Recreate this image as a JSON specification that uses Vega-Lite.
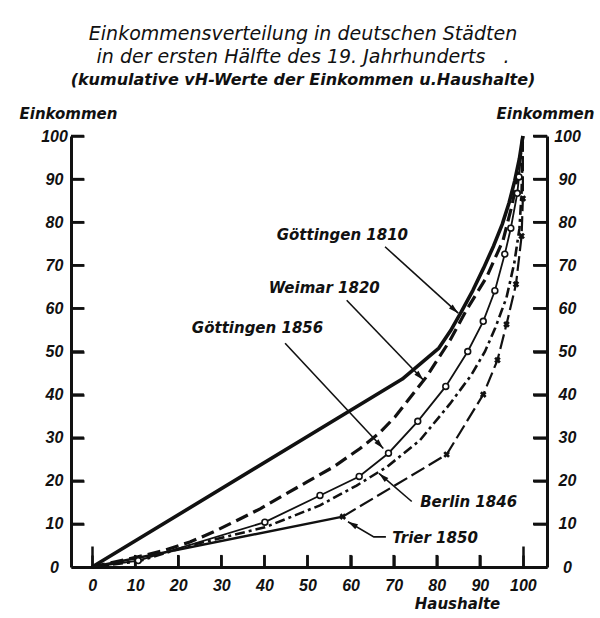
{
  "$schema": "https://vega.github.io/schema/vega-lite/v6.json",
  "autosize": {"type": "none"},
  "padding": {"left": 71, "top": 136, "right": 53, "bottom": 51},
  "width": 476,
  "height": 431,
  "background": "white",
  "title": {
    "text": ["Einkommensverteilung in deutschen Städten", "in der ersten Hälfte des 19. Jahrhunderts\u00a0\u00a0\u00a0."],
    "subtitle": "(kumulative vH-Werte der Einkommen u.Haushalte)",
    "anchor": "middle",
    "frame": "group",
    "dx": -6,
    "offset": 18,
    "font": "DejaVu Sans",
    "fontStyle": "italic",
    "fontWeight": "normal",
    "fontSize": 19,
    "lineHeight": 23,
    "color": "#111",
    "subtitleFont": "DejaVu Sans",
    "subtitleFontStyle": "italic",
    "subtitleFontWeight": "bold",
    "subtitleFontSize": 16,
    "subtitleColor": "#111",
    "subtitlePadding": 5
  },
  "config": {"view": {"stroke": null}},
  "datasets": {
    "striche": [
      {"wert": 10}, {"wert": 20}, {"wert": 30}, {"wert": 40}, {"wert": 50},
      {"wert": 60}, {"wert": 70}, {"wert": 80}, {"wert": 90}, {"wert": 100}
    ],
    "kurven": [
      {"stadt": "Göttingen 1810", "haushalte": 0, "einkommen": 0},
      {"stadt": "Göttingen 1810", "haushalte": 72, "einkommen": 43.6},
      {"stadt": "Göttingen 1810", "haushalte": 80.5, "einkommen": 50.8},
      {"stadt": "Göttingen 1810", "haushalte": 83.2, "einkommen": 54.8},
      {"stadt": "Göttingen 1810", "haushalte": 85.6, "einkommen": 59},
      {"stadt": "Göttingen 1810", "haushalte": 88.4, "einkommen": 64.2},
      {"stadt": "Göttingen 1810", "haushalte": 90.9, "einkommen": 69.4},
      {"stadt": "Göttingen 1810", "haushalte": 93.2, "einkommen": 74.5},
      {"stadt": "Göttingen 1810", "haushalte": 95.2, "einkommen": 79.5},
      {"stadt": "Göttingen 1810", "haushalte": 96.8, "einkommen": 84.5},
      {"stadt": "Göttingen 1810", "haushalte": 98.1, "einkommen": 89.6},
      {"stadt": "Göttingen 1810", "haushalte": 99.2, "einkommen": 94.8},
      {"stadt": "Göttingen 1810", "haushalte": 100, "einkommen": 100},
      {"stadt": "Weimar 1820", "haushalte": 0, "einkommen": 0},
      {"stadt": "Weimar 1820", "haushalte": 4.9, "einkommen": 1.1},
      {"stadt": "Weimar 1820", "haushalte": 10.4, "einkommen": 2.3},
      {"stadt": "Weimar 1820", "haushalte": 16.6, "einkommen": 3.8},
      {"stadt": "Weimar 1820", "haushalte": 22.7, "einkommen": 5.8},
      {"stadt": "Weimar 1820", "haushalte": 28.1, "einkommen": 8.1},
      {"stadt": "Weimar 1820", "haushalte": 33.6, "einkommen": 10.8},
      {"stadt": "Weimar 1820", "haushalte": 39, "einkommen": 13.5},
      {"stadt": "Weimar 1820", "haushalte": 44.4, "einkommen": 16.6},
      {"stadt": "Weimar 1820", "haushalte": 49.8, "einkommen": 19.7},
      {"stadt": "Weimar 1820", "haushalte": 56, "einkommen": 23.2},
      {"stadt": "Weimar 1820", "haushalte": 62.2, "einkommen": 27.5},
      {"stadt": "Weimar 1820", "haushalte": 66.6, "einkommen": 31},
      {"stadt": "Weimar 1820", "haushalte": 70.3, "einkommen": 34.8},
      {"stadt": "Weimar 1820", "haushalte": 77.6, "einkommen": 44.1},
      {"stadt": "Weimar 1820", "haushalte": 83.1, "einkommen": 52.6},
      {"stadt": "Weimar 1820", "haushalte": 86.9, "einkommen": 59.6},
      {"stadt": "Weimar 1820", "haushalte": 91.6, "einkommen": 67.3},
      {"stadt": "Weimar 1820", "haushalte": 95.4, "einkommen": 75.8},
      {"stadt": "Weimar 1820", "haushalte": 97.5, "einkommen": 84},
      {"stadt": "Weimar 1820", "haushalte": 99, "einkommen": 92},
      {"stadt": "Weimar 1820", "haushalte": 100, "einkommen": 100},
      {"stadt": "Göttingen 1856", "haushalte": 0, "einkommen": 0},
      {"stadt": "Göttingen 1856", "haushalte": 10.7, "einkommen": 1.5},
      {"stadt": "Göttingen 1856", "haushalte": 40.1, "einkommen": 10.4},
      {"stadt": "Göttingen 1856", "haushalte": 52.9, "einkommen": 16.6},
      {"stadt": "Göttingen 1856", "haushalte": 62, "einkommen": 21},
      {"stadt": "Göttingen 1856", "haushalte": 68.8, "einkommen": 26.4},
      {"stadt": "Göttingen 1856", "haushalte": 75.6, "einkommen": 33.8},
      {"stadt": "Göttingen 1856", "haushalte": 82.1, "einkommen": 41.9},
      {"stadt": "Göttingen 1856", "haushalte": 87.2, "einkommen": 50},
      {"stadt": "Göttingen 1856", "haushalte": 90.8, "einkommen": 57},
      {"stadt": "Göttingen 1856", "haushalte": 93.5, "einkommen": 64.1},
      {"stadt": "Göttingen 1856", "haushalte": 95.8, "einkommen": 72.6},
      {"stadt": "Göttingen 1856", "haushalte": 97.2, "einkommen": 78.6},
      {"stadt": "Göttingen 1856", "haushalte": 98.7, "einkommen": 86.7},
      {"stadt": "Göttingen 1856", "haushalte": 99.1, "einkommen": 90.5},
      {"stadt": "Göttingen 1856", "haushalte": 100, "einkommen": 100},
      {"stadt": "Berlin 1846", "haushalte": 0, "einkommen": 0},
      {"stadt": "Berlin 1846", "haushalte": 10.7, "einkommen": 1.3},
      {"stadt": "Berlin 1846", "haushalte": 22.7, "einkommen": 5},
      {"stadt": "Berlin 1846", "haushalte": 40.1, "einkommen": 9.2},
      {"stadt": "Berlin 1846", "haushalte": 52.9, "einkommen": 14.3},
      {"stadt": "Berlin 1846", "haushalte": 61.4, "einkommen": 18.9},
      {"stadt": "Berlin 1846", "haushalte": 68.4, "einkommen": 23.2},
      {"stadt": "Berlin 1846", "haushalte": 76.1, "einkommen": 29.4},
      {"stadt": "Berlin 1846", "haushalte": 83.1, "einkommen": 37.9},
      {"stadt": "Berlin 1846", "haushalte": 88, "einkommen": 44.5},
      {"stadt": "Berlin 1846", "haushalte": 91.2, "einkommen": 50},
      {"stadt": "Berlin 1846", "haushalte": 93.6, "einkommen": 55.5},
      {"stadt": "Berlin 1846", "haushalte": 96.2, "einkommen": 62.5},
      {"stadt": "Berlin 1846", "haushalte": 98, "einkommen": 70.5},
      {"stadt": "Berlin 1846", "haushalte": 99.2, "einkommen": 78.5},
      {"stadt": "Berlin 1846", "haushalte": 99.7, "einkommen": 87},
      {"stadt": "Berlin 1846", "haushalte": 100, "einkommen": 100},
      {"stadt": "Trier 1850", "haushalte": 0, "einkommen": 0},
      {"stadt": "Trier 1850", "haushalte": 58.2, "einkommen": 11.7},
      {"stadt": "Trier 1850", "haushalte": 82.3, "einkommen": 26.1},
      {"stadt": "Trier 1850", "haushalte": 90.8, "einkommen": 40},
      {"stadt": "Trier 1850", "haushalte": 94.1, "einkommen": 48},
      {"stadt": "Trier 1850", "haushalte": 96.2, "einkommen": 56.3},
      {"stadt": "Trier 1850", "haushalte": 98.4, "einkommen": 65.6},
      {"stadt": "Trier 1850", "haushalte": 99.7, "einkommen": 76.8},
      {"stadt": "Trier 1850", "haushalte": 100, "einkommen": 85.5},
      {"stadt": "Trier 1850", "haushalte": 100, "einkommen": 100}
    ],
    "pfeile": [
      {"pfeil": "Göttingen 1810", "n": 1, "haushalte": 68.0, "einkommen": 74.3},
      {"pfeil": "Göttingen 1810", "n": 2, "haushalte": 85.0, "einkommen": 58.9},
      {"pfeil": "Weimar 1820", "n": 1, "haushalte": 59.1, "einkommen": 61.9},
      {"pfeil": "Weimar 1820", "n": 2, "haushalte": 76.9, "einkommen": 43.4},
      {"pfeil": "Göttingen 1856", "n": 1, "haushalte": 44.8, "einkommen": 51.9},
      {"pfeil": "Göttingen 1856", "n": 2, "haushalte": 67.6, "einkommen": 27.5},
      {"pfeil": "Berlin 1846", "n": 1, "haushalte": 74.2, "einkommen": 15.2},
      {"pfeil": "Berlin 1846", "n": 2, "haushalte": 66.6, "einkommen": 21.7},
      {"pfeil": "Trier 1850", "n": 1, "haushalte": 68.2, "einkommen": 7.0},
      {"pfeil": "Trier 1850", "n": 2, "haushalte": 65.4, "einkommen": 7.0},
      {"pfeil": "Trier 1850", "n": 3, "haushalte": 59.4, "einkommen": 10.5}
    ],
    "beschriftungen": [
      {"text": "Göttingen 1810", "haushalte": 58.1, "einkommen": 77.1},
      {"text": "Weimar 1820", "haushalte": 53.9, "einkommen": 64.8},
      {"text": "Göttingen 1856", "haushalte": 38.4, "einkommen": 55.5},
      {"text": "Berlin 1846", "haushalte": 87.4, "einkommen": 15.0},
      {"text": "Trier 1850", "haushalte": 79.6, "einkommen": 6.8}
    ]
  },
  "layer": [
    {
      "data": {"name": "kurven"},
      "transform": [{"filter": "datum.stadt === 'Göttingen 1810'"}],
      "mark": {"type": "line", "color": "#111", "strokeWidth": 3.6, "strokeJoin": "round"},
      "encoding": {
        "x": {"field": "haushalte", "type": "quantitative", "scale": {"domain": [-4.9, 105.6], "nice": false, "zero": false},
          "axis": {"orient": "bottom", "values": [0, 10, 20, 30, 40, 50, 60, 70, 80, 90, 100], "grid": false,
            "ticks": true, "tickSize": -12, "tickWidth": 2.5, "tickColor": "#111", "domainColor": "#111", "domainWidth": 3,
            "labelFont": "Liberation Sans", "labelFontStyle": "italic", "labelFontWeight": "bold", "labelFontSize": 16, "labelColor": "#111",
            "labelPadding": 22, "labelFlush": false, "labelOverlap": false,
            "title": "Haushalte", "titleX": 386, "titleY": 36, "titleAngle": 0, "titleAlign": "center", "titleBaseline": "middle",
            "titleFont": "DejaVu Sans", "titleFontStyle": "italic", "titleFontWeight": "bold", "titleFontSize": 15, "titleColor": "#111"}},
        "y": {"field": "einkommen", "type": "quantitative", "scale": {"domain": [0, 100], "nice": false},
          "axis": {"orient": "left", "values": [0, 10, 20, 30, 40, 50, 60, 70, 80, 90, 100], "grid": false,
            "ticks": true, "tickSize": -13, "tickWidth": 2.5, "tickColor": "#111", "domainColor": "#111", "domainWidth": 3,
            "labelFont": "Liberation Sans", "labelFontStyle": "italic", "labelFontWeight": "bold", "labelFontSize": 16, "labelColor": "#111",
            "labelAlign": "center", "labelBaseline": "middle", "labelPadding": 30, "labelFlush": false, "labelOverlap": false,
            "title": "Einkommen", "titleX": -3, "titleY": -23, "titleAngle": 0, "titleAlign": "center", "titleBaseline": "middle",
            "titleFont": "DejaVu Sans", "titleFontStyle": "italic", "titleFontWeight": "bold", "titleFontSize": 15, "titleColor": "#111"}}
      }
    },
    {
      "data": {"name": "striche"},
      "transform": [{"filter": "datum.wert < 100"}],
      "mark": {"type": "rule", "color": "#111", "strokeWidth": 2.5},
      "encoding": {
        "x": {"field": "wert", "type": "quantitative", "scale": {"domain": [-4.9, 105.6], "nice": false, "zero": false}, "axis": null},
        "y": {"datum": 0, "type": "quantitative", "scale": {"domain": [0, 100], "nice": false}, "axis": null},
        "y2": {"datum": 2.8}
      }
    },
    {
      "data": {"name": "striche"},
      "mark": {"type": "rule", "color": "#111", "strokeWidth": 2.5},
      "encoding": {
        "y": {"field": "wert", "type": "quantitative", "scale": {"domain": [0, 100], "nice": false}, "axis": null},
        "x": {"datum": -4.9, "type": "quantitative", "scale": {"domain": [-4.9, 105.6], "nice": false, "zero": false}, "axis": null},
        "x2": {"datum": -1.9}
      }
    },
    {
      "data": {"name": "striche"},
      "mark": {"type": "rule", "color": "#111", "strokeWidth": 2.5},
      "encoding": {
        "y": {"field": "wert", "type": "quantitative", "scale": {"domain": [0, 100], "nice": false}, "axis": null},
        "x": {"datum": 102.35, "type": "quantitative", "scale": {"domain": [-4.9, 105.6], "nice": false, "zero": false}, "axis": null},
        "x2": {"datum": 105.6}
      }
    },
    {
      "data": {"name": "kurven"},
      "transform": [{"filter": "datum.stadt === 'Weimar 1820'"}],
      "mark": {"type": "line", "color": "#111", "strokeWidth": 3.2, "strokeDash": [13, 6]},
      "encoding": {
        "x": {"field": "haushalte", "type": "quantitative", "scale": {"domain": [-4.9, 105.6], "nice": false, "zero": false}, "axis": null},
        "y": {"field": "einkommen", "type": "quantitative", "scale": {"domain": [0, 100], "nice": false}, "axis": null}
      }
    },
    {
      "data": {"name": "kurven"},
      "transform": [{"filter": "datum.stadt === 'Berlin 1846'"}],
      "mark": {"type": "line", "color": "#111", "strokeWidth": 2.6, "strokeDash": [10, 4, 3, 4]},
      "encoding": {
        "x": {"field": "haushalte", "type": "quantitative", "scale": {"domain": [-4.9, 105.6], "nice": false, "zero": false},
          "axis": {"orient": "bottom", "values": [0, 100], "grid": false, "labels": false, "domain": false,
            "tickSize": -21, "tickWidth": 2.5, "tickColor": "#111", "title": null}},
        "y": {"field": "einkommen", "type": "quantitative", "scale": {"domain": [0, 100], "nice": false}, "axis": null}
      }
    },
    {
      "data": {"name": "kurven"},
      "transform": [{"filter": "datum.stadt === 'Göttingen 1856'"}],
      "mark": {"type": "line", "color": "#111", "strokeWidth": 1.8},
      "encoding": {
        "x": {"field": "haushalte", "type": "quantitative", "scale": {"domain": [-4.9, 105.6], "nice": false, "zero": false}, "axis": null},
        "y": {"field": "einkommen", "type": "quantitative", "scale": {"domain": [0, 100], "nice": false},
          "axis": {"orient": "right", "values": [0, 10, 20, 30, 40, 50, 60, 70, 80, 90, 100], "grid": false,
            "ticks": true, "tickSize": -14, "tickWidth": 2.5, "tickColor": "#111", "domainColor": "#111", "domainWidth": 3,
            "labelFont": "Liberation Sans", "labelFontStyle": "italic", "labelFontWeight": "bold", "labelFontSize": 16, "labelColor": "#111",
            "labelAlign": "center", "labelBaseline": "middle", "labelPadding": 34, "labelFlush": false, "labelOverlap": false,
            "title": "Einkommen", "titleX": -2, "titleY": -23, "titleAngle": 0, "titleAlign": "center", "titleBaseline": "middle",
            "titleFont": "DejaVu Sans", "titleFontStyle": "italic", "titleFontWeight": "bold", "titleFontSize": 15, "titleColor": "#111"}}
      }
    },
    {
      "data": {"name": "kurven"},
      "transform": [{"filter": "datum.stadt === 'Trier 1850' && datum.haushalte <= 58.2"}],
      "mark": {"type": "line", "color": "#111", "strokeWidth": 2.4},
      "encoding": {
        "x": {"field": "haushalte", "type": "quantitative", "scale": {"domain": [-4.9, 105.6], "nice": false, "zero": false}, "axis": null},
        "y": {"field": "einkommen", "type": "quantitative", "scale": {"domain": [0, 100], "nice": false}, "axis": null}
      }
    },
    {
      "data": {"name": "kurven"},
      "transform": [{"filter": "datum.stadt === 'Trier 1850' && datum.haushalte >= 58.2"}],
      "mark": {"type": "line", "color": "#111", "strokeWidth": 2.2, "strokeDash": [15, 5]},
      "encoding": {
        "x": {"field": "haushalte", "type": "quantitative", "scale": {"domain": [-4.9, 105.6], "nice": false, "zero": false}, "axis": null},
        "y": {"field": "einkommen", "type": "quantitative", "scale": {"domain": [0, 100], "nice": false}, "axis": null},
        "order": {"field": "einkommen", "type": "quantitative"}
      }
    },
    {
      "data": {"name": "kurven"},
      "transform": [{"filter": "datum.stadt === 'Göttingen 1856' && datum.einkommen > 0 && datum.einkommen < 100"}],
      "mark": {"type": "point", "shape": "circle", "filled": true, "fill": "white", "stroke": "#111", "strokeWidth": 1.6, "size": 34, "opacity": 1},
      "encoding": {
        "x": {"field": "haushalte", "type": "quantitative", "scale": {"domain": [-4.9, 105.6], "nice": false, "zero": false}, "axis": null},
        "y": {"field": "einkommen", "type": "quantitative", "scale": {"domain": [0, 100], "nice": false}, "axis": null}
      }
    },
    {
      "data": {"name": "kurven"},
      "transform": [{"filter": "datum.stadt === 'Trier 1850' && datum.einkommen > 0 && datum.einkommen < 100"}],
      "mark": {"type": "point", "shape": "cross", "angle": 45, "filled": true, "fill": "#111", "strokeWidth": 0, "size": 45, "opacity": 1},
      "encoding": {
        "x": {"field": "haushalte", "type": "quantitative", "scale": {"domain": [-4.9, 105.6], "nice": false, "zero": false}, "axis": null},
        "y": {"field": "einkommen", "type": "quantitative", "scale": {"domain": [0, 100], "nice": false}, "axis": null}
      }
    },
    {
      "data": {"name": "pfeile"},
      "mark": {"type": "line", "color": "#111", "strokeWidth": 1.6},
      "encoding": {
        "x": {"field": "haushalte", "type": "quantitative", "scale": {"domain": [-4.9, 105.6], "nice": false, "zero": false}, "axis": null},
        "y": {"field": "einkommen", "type": "quantitative", "scale": {"domain": [0, 100], "nice": false}, "axis": null},
        "detail": {"field": "pfeil"},
        "order": {"field": "n", "type": "quantitative"}
      }
    },
    {
      "data": {"name": "pfeile"},
      "transform": [{"filter": "datum.pfeil === 'Göttingen 1810' && datum.n === 2"}],
      "mark": {"type": "point", "shape": "M0,0L0.55,2L-0.55,2Z", "angle": 132, "filled": true, "fill": "#111", "strokeWidth": 0, "size": 100, "opacity": 1},
      "encoding": {
        "x": {"field": "haushalte", "type": "quantitative", "scale": {"domain": [-4.9, 105.6], "nice": false, "zero": false}, "axis": null},
        "y": {"field": "einkommen", "type": "quantitative", "scale": {"domain": [0, 100], "nice": false}, "axis": null}
      }
    },
    {
      "data": {"name": "pfeile"},
      "transform": [{"filter": "datum.pfeil === 'Weimar 1820' && datum.n === 2"}],
      "mark": {"type": "point", "shape": "M0,0L0.55,2L-0.55,2Z", "angle": 136, "filled": true, "fill": "#111", "strokeWidth": 0, "size": 100, "opacity": 1},
      "encoding": {
        "x": {"field": "haushalte", "type": "quantitative", "scale": {"domain": [-4.9, 105.6], "nice": false, "zero": false}, "axis": null},
        "y": {"field": "einkommen", "type": "quantitative", "scale": {"domain": [0, 100], "nice": false}, "axis": null}
      }
    },
    {
      "data": {"name": "pfeile"},
      "transform": [{"filter": "datum.pfeil === 'Göttingen 1856' && datum.n === 2"}],
      "mark": {"type": "point", "shape": "M0,0L0.55,2L-0.55,2Z", "angle": 137, "filled": true, "fill": "#111", "strokeWidth": 0, "size": 100, "opacity": 1},
      "encoding": {
        "x": {"field": "haushalte", "type": "quantitative", "scale": {"domain": [-4.9, 105.6], "nice": false, "zero": false}, "axis": null},
        "y": {"field": "einkommen", "type": "quantitative", "scale": {"domain": [0, 100], "nice": false}, "axis": null}
      }
    },
    {
      "data": {"name": "pfeile"},
      "transform": [{"filter": "datum.pfeil === 'Berlin 1846' && datum.n === 2"}],
      "mark": {"type": "point", "shape": "M0,0L0.55,2L-0.55,2Z", "angle": 311, "filled": true, "fill": "#111", "strokeWidth": 0, "size": 100, "opacity": 1},
      "encoding": {
        "x": {"field": "haushalte", "type": "quantitative", "scale": {"domain": [-4.9, 105.6], "nice": false, "zero": false}, "axis": null},
        "y": {"field": "einkommen", "type": "quantitative", "scale": {"domain": [0, 100], "nice": false}, "axis": null}
      }
    },
    {
      "data": {"name": "pfeile"},
      "transform": [{"filter": "datum.pfeil === 'Trier 1850' && datum.n === 3"}],
      "mark": {"type": "point", "shape": "M0,0L0.55,2L-0.55,2Z", "angle": 300, "filled": true, "fill": "#111", "strokeWidth": 0, "size": 100, "opacity": 1},
      "encoding": {
        "x": {"field": "haushalte", "type": "quantitative", "scale": {"domain": [-4.9, 105.6], "nice": false, "zero": false}, "axis": null},
        "y": {"field": "einkommen", "type": "quantitative", "scale": {"domain": [0, 100], "nice": false}, "axis": null}
      }
    },
    {
      "data": {"name": "beschriftungen"},
      "mark": {"type": "text", "font": "DejaVu Sans", "fontStyle": "italic", "fontWeight": "bold", "fontSize": 15, "color": "#111", "align": "center", "baseline": "middle"},
      "encoding": {
        "x": {"field": "haushalte", "type": "quantitative", "scale": {"domain": [-4.9, 105.6], "nice": false, "zero": false}, "axis": null},
        "y": {"field": "einkommen", "type": "quantitative", "scale": {"domain": [0, 100], "nice": false}, "axis": null},
        "text": {"field": "text"}
      }
    }
  ],
  "resolve": {"axis": {"x": "independent", "y": "independent"}}
}
